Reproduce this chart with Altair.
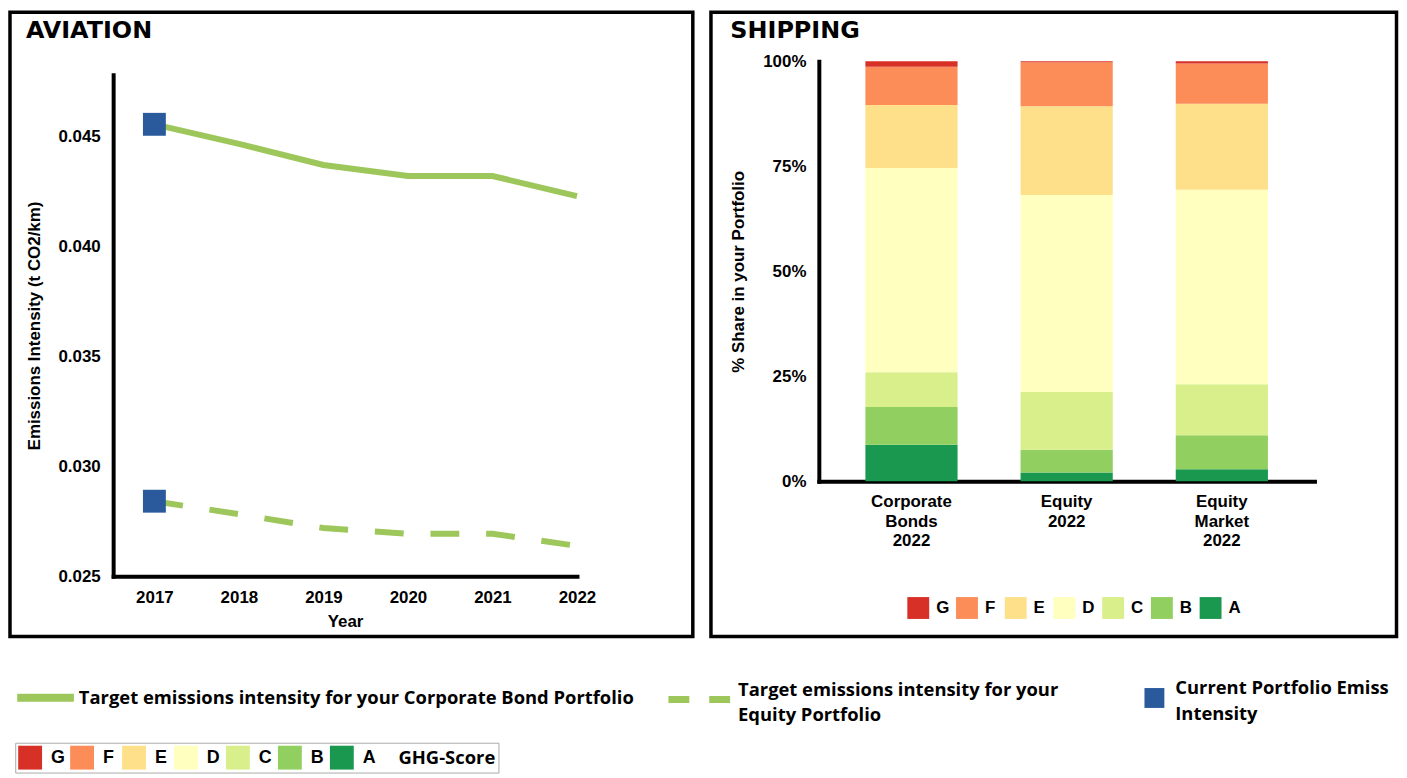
import altair as alt
import pandas as pd

# ---------------- data ----------------
years = [2017, 2018, 2019, 2020, 2021, 2022]
bond_target = [0.04555, 0.04466, 0.0437, 0.0432, 0.0432, 0.04228]
equity_target = [0.02841, 0.02782, 0.02719, 0.02693, 0.02693, 0.02638]
current_year = [2017, 2017]
current_value = [0.04555, 0.02841]

bond_name = "Target emissions intensity for your Corporate Bond Portfolio"
equity_name = "Target emissions intensity for your Equity Portfolio"
current_name = "Current Portfolio Emissions Intensity"

y_ticks = [0.025, 0.030, 0.035, 0.040, 0.045]

portfolios = ["Corporate Bonds 2022", "Equity 2022", "Equity Market 2022"]
scores = ["G", "F", "E", "D", "C", "B", "A"]
score_colors = ["#d73027", "#fc8d59", "#fee08b", "#ffffbf", "#d9ef8b", "#91cf60", "#1a9850"]
share_A = [8.7, 2.1, 2.9]
share_B = [9.0, 5.4, 8.1]
share_C = [8.3, 13.8, 12.1]
share_D = [48.6, 46.9, 46.3]
share_E = [15.0, 21.1, 20.5]
share_F = [9.1, 10.5, 9.6]
share_G = [1.3, 0.2, 0.5]
pct_ticks = [0, 25, 50, 75, 100]

green = "#9dc75b"
blue = "#2a5a9b"
legend_font = "Open Sans"

# ---------------- tables ----------------
bond_df = pd.DataFrame({"year": years, "value": bond_target, "series": bond_name})
eq_df = pd.DataFrame({"year": years, "value": equity_target, "series": equity_name})
cur_df = pd.DataFrame({"year": current_year, "value": current_value, "series": current_name})
ghg_df = pd.DataFrame({"score": scores})

share_by_score = {"A": share_A, "B": share_B, "C": share_C, "D": share_D,
                  "E": share_E, "F": share_F, "G": share_G}
rows = []
for rank, s in enumerate(["A", "B", "C", "D", "E", "F", "G"]):
    for p, v in zip(portfolios, share_by_score[s]):
        rows.append({"portfolio": p, "score": s, "share": v, "rank": rank})
ship_df = pd.DataFrame(rows)

# ---------------- aviation ----------------
x_enc = alt.X(
    "year:Q",
    scale=alt.Scale(domain=[2016.512, 2022], range=[103.75, 570.25], nice=False, zero=False),
    axis=alt.Axis(values=years, format="d", title="Year", offset=-60.75, labelPadding=13,
                  titlePadding=9, labelFlush=False, labelOverlap=False),
)
y_enc = alt.Y(
    "value:Q",
    scale=alt.Scale(domain=[0.025, 0.0478], range=[567.25, 63], nice=False, zero=False),
    axis=alt.Axis(values=y_ticks, format=".3f", title="Emissions Intensity (t CO2/km)",
                  offset=-103.75, labelPadding=13, titlePadding=15, labelFlush=False,
                  labelOverlap=False),
)

solid = alt.Chart(bond_df).mark_line(strokeWidth=6, strokeCap="butt").encode(
    x=x_enc, y=y_enc,
    color=alt.Color("series:N", scale=alt.Scale(domain=[bond_name], range=[green]),
                    legend=alt.Legend(orient="none", legendX=3.25, legendY=657, title=None,
                                      symbolType="stroke", symbolSize=3249, symbolStrokeWidth=8,
                                      labelOffset=1, labelLimit=800, labelBaseline="middle")),
)

dashed = alt.Chart(eq_df).mark_line(strokeWidth=6, strokeDash=[29, 27], color=green).encode(
    x=x_enc, y=y_enc,
    opacity=alt.Opacity("series:N", scale=alt.Scale(domain=[equity_name], range=[1]),
                        legend=alt.Legend(orient="none", legendX=658.75, legendY=656.75, title=None,
                                          symbolType="stroke", symbolSize=3844, symbolStrokeWidth=7,
                                          symbolDash=[21, 20], symbolStrokeColor=green,
                                          labelOffset=4.5, labelLimit=800, labelBaseline="bottom",
                                          labelExpr="split(replace(datum.label, 'your ', 'your|'), '|')")),
)

squares = alt.Chart(cur_df).mark_point(filled=True, size=530, color=blue, opacity=1).encode(
    x=x_enc, y=y_enc,
    shape=alt.Shape("series:N", scale=alt.Scale(domain=[current_name], range=["square"]),
                    legend=alt.Legend(orient="none", legendX=1141, legendY=679.75, title=None,
                                      symbolSize=400, symbolFillColor=blue, symbolStrokeWidth=0,
                                      labelOffset=11, labelLimit=223, labelBaseline="bottom",
                                      labelExpr="split(replace(datum.label, 'Emissions ', 'Emissions|'), '|')")),
)

ghg_legend = alt.Chart(ghg_df).mark_square(opacity=1, filled=True).encode(
    fill=alt.Fill("score:N", scale=alt.Scale(domain=scores, range=score_colors),
                  legend=alt.Legend(orient="none", legendX=5.25, legendY=734.75, direction="horizontal",
                                    title="GHG-Score", titleOrient="right", titlePadding=23.5,
                                    titleFont=legend_font, titleFontSize=18.5, titleFontWeight="bold",
                                    titleColor="black", strokeColor="#aaaaaa", padding=3,
                                    symbolType="square", symbolSize=576, symbolStrokeWidth=0,
                                    symbolOpacity=1,
                                    labelFont="Liberation Sans", labelFontSize=18, labelOffset=9,
                                    columnPadding=4.25, gridAlign="all")),
).transform_filter("false")

aviation = alt.layer(solid, dashed, squares, ghg_legend).properties(
    width=686.75, height=628,
    title=alt.TitleParams("AVIATION", anchor="start", frame="group", dx=16, dy=50, offset=0,
                          baseline="alphabetic", font="DejaVu Sans", fontSize=24,
                          fontWeight="bold", color="black"),
)

# ---------------- shipping ----------------
bars = alt.Chart(ship_df).mark_bar().encode(
    x=alt.X("portfolio:N", sort=portfolios,
            scale=alt.Scale(range=[108.5, 607], paddingInner=0.406, paddingOuter=0.30),
            axis=alt.Axis(title=None, labelAngle=0, labelExpr="split(datum.label, ' ')",
                          labelLineHeight=20, offset=-156.15, labelPadding=12)),
    y=alt.Y("share:Q", stack="zero",
            scale=alt.Scale(domain=[0, 100], range=[471.85, 49.45], nice=False),
            axis=alt.Axis(values=pct_ticks, labelExpr="datum.value + '%'",
                          title="% Share in your Portfolio", offset=-108.5, labelPadding=13,
                          titlePadding=15, labelFlush=False)),
    fill=alt.Fill("score:N", scale=alt.Scale(domain=scores, range=score_colors),
                  legend=alt.Legend(orient="none", legendX=197.5, legendY=588.25, direction="horizontal",
                                    title=None, symbolType="square", symbolSize=484,
                                    symbolStrokeWidth=0, labelFont="Liberation Sans",
                                    labelFontSize=17, labelOffset=7, columnPadding=6,
                                    gridAlign="all")),
    order=alt.Order("rank:Q"),
)

shipping = bars.properties(
    width=689.5, height=628,
    title=alt.TitleParams("SHIPPING", anchor="start", frame="group", dx=19.5, dy=50, offset=0,
                          baseline="alphabetic", font="DejaVu Sans", fontSize=24,
                          fontWeight="bold", color="black"),
)

chart = alt.hconcat(aviation, shipping, spacing=18, bounds="flush").resolve_scale(
    fill="independent", color="independent", opacity="independent", shape="independent",
    x="independent", y="independent",
).properties(padding=0).configure_view(
    stroke="black", strokeWidth=3.5
).configure_axis(
    labelFont="Liberation Sans", labelFontWeight="bold", labelFontSize=17, labelColor="black",
    titleFont="Liberation Sans", titleFontWeight="bold", titleFontSize=17, titleColor="black",
    domainColor="black", domainWidth=4, domainCap="square", ticks=False, grid=False,
).configure_legend(
    labelFont=legend_font, labelFontSize=18.5, labelFontWeight="bold", labelColor="black", padding=0,
)
chart.config.style = {"guide-label": {"lineHeight": 26, "ellipsis": " "}}

chart.save("out.html", embed_options={"renderer": "svg", "actions": False})
